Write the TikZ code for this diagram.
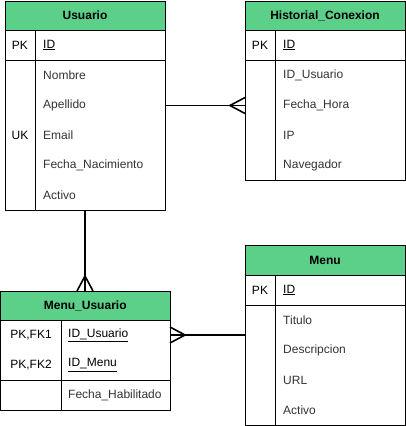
\documentclass[tikz,border=0pt]{standalone}
\usepackage{fontspec}
\setmainfont{Liberation Sans}
\usetikzlibrary{calc}
\definecolor{hdrgreen}{HTML}{5CCF88}
\definecolor{attr}{HTML}{333333}
\tikzset{
  ebox/.style={draw, line width=1pt, inner sep=0pt, outer sep=0pt, anchor=north west},
  hdr/.style={draw, line width=1pt, fill=hdrgreen, inner sep=0pt, outer sep=0pt, anchor=north west, font=\fontsize{12}{14}\selectfont\bfseries},
  sep/.style={line width=1pt},
  keyt/.style={font=\fontsize{12}{14}\selectfont, text=black, inner sep=0pt},
  att/.style={font=\fontsize{12}{14}\selectfont, text=attr, anchor=west, inner sep=0pt},
  pkatt/.style={font=\fontsize{12}{14}\selectfont, text=black, anchor=west, inner sep=0pt},
  rel/.style={line width=1.6pt, line cap=butt}
}
\begin{document}
\begin{tikzpicture}[x=1pt,y=-1pt]
\useasboundingbox (0,0) rectangle (406,426);
% ---------- Usuario ----------
\node[ebox, minimum width=160pt, minimum height=209pt] (usu) at (5,1) {};
\node[hdr, minimum width=160pt, minimum height=29pt] (usuh) at (5,1) {Usuario};
\draw[sep] (5,60) -- (165,60);
\draw[sep] (35,30) -- (35,210);
\node[keyt] (usupk) at (20,45) {PK};
\node[pkatt] (usuid) at (43,45) {\underline{ID}};
\node[att] (u1) at (43,75) {Nombre};
\node[att] (u2) at (43,105) {Apellido};
\node[keyt] (usuuk) at (20,135) {UK};
\node[att] (u3) at (43,135) {Email};
\node[att] (u4) at (43,165) {Fecha\_Nacimiento};
\node[att] (u5) at (43,195) {Activo};
% ---------- Historial_Conexion ----------
\node[ebox, minimum width=160pt, minimum height=179pt] (hist) at (245,1) {};
\node[hdr, minimum width=160pt, minimum height=29pt] (histh) at (245,1) {Historial\_Conexion};
\draw[sep] (245,60) -- (405,60);
\draw[sep] (275,30) -- (275,180);
\node[keyt] (histpk) at (260,45) {PK};
\node[pkatt] (histid) at (283,45) {\underline{ID}};
\node[att] (h1) at (283,75) {ID\_Usuario};
\node[att] (h2) at (283,105) {Fecha\_Hora};
\node[att] (h3) at (283,135) {IP};
\node[att] (h4) at (283,165) {Navegador};
% ---------- Menu ----------
\node[ebox, minimum width=160pt, minimum height=180pt] (menu) at (245,245) {};
\node[hdr, minimum width=160pt, minimum height=30pt] (menuh) at (245,245) {Menu};
\draw[sep] (245,305) -- (405,305);
\draw[sep] (275,275) -- (275,425);
\node[keyt] (menupk) at (260,290) {PK};
\node[pkatt] (menuid) at (283,290) {\underline{ID}};
\node[att] (m1) at (283,320) {Titulo};
\node[att] (m2) at (283,350) {Descripcion};
\node[att] (m3) at (283,380) {URL};
\node[att] (m4) at (283,410) {Activo};
% ---------- Menu_Usuario ----------
\node[ebox, minimum width=169.5pt, minimum height=119pt] (mu) at (0.5,291) {};
\node[hdr, minimum width=169.5pt, minimum height=29pt] (muh) at (0.5,291) {Menu\_Usuario};
\draw[sep] (0.5,380) -- (170,380);
\draw[sep] (61,320) -- (61,410);
\node[keyt] (mufk1) at (31,335) {PK,FK1};
\node[pkatt] (muid1) at (68,335) {\underline{ID\_Usuario}};
\node[keyt] (mufk2) at (31,365) {PK,FK2};
\node[pkatt] (muid2) at (68,365) {\underline{ID\_Menu}};
\node[att] (mu3) at (68,395) {Fecha\_Habilitado};
% ---------- Relationships ----------
% Usuario -- Historial_Conexion (crow's foot at Historial)
\coordinate (r1a) at (usu.east);
\coordinate (r1b) at (usu.east -| hist.west);
\coordinate (r1c) at ($(r1b)+(-15,0)$);
\draw[rel] (r1a) -- (r1b);
\draw[rel] ($(r1b)+(0,-8)$) -- (r1c) -- ($(r1b)+(0,8)$);
% Usuario -- Menu_Usuario (crow's foot at Menu_Usuario)
\coordinate (r2a) at (usu.south);
\coordinate (r2b) at (usu.south |- mu.north);
\coordinate (r2c) at ($(r2b)+(0,-15)$);
\draw[rel] (r2a) -- (r2b);
\draw[rel] ($(r2b)+(-8,0)$) -- (r2c) -- ($(r2b)+(8,0)$);
% Menu -- Menu_Usuario (crow's foot at Menu_Usuario)
\coordinate (r3a) at (menu.west);
\coordinate (r3b) at (menu.west -| mu.east);
\coordinate (r3c) at ($(r3b)+(15,0)$);
\draw[rel] (r3a) -- (r3b);
\draw[rel] ($(r3b)+(0,-8)$) -- (r3c) -- ($(r3b)+(0,8)$);
\end{tikzpicture}
\end{document}
